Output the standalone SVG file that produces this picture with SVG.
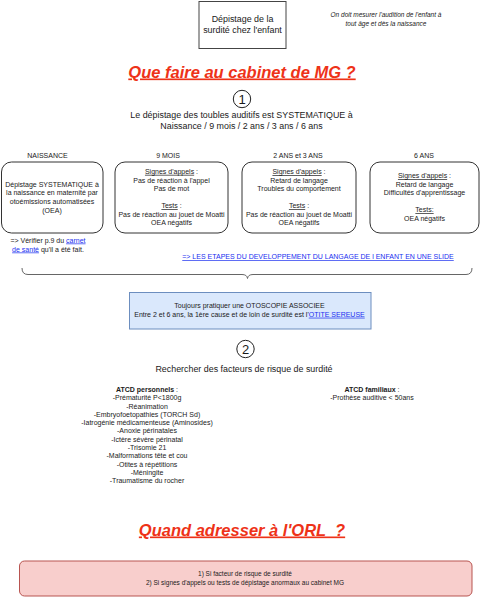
<svg xmlns="http://www.w3.org/2000/svg" width="481" height="600" viewBox="0 0 481 600">
<style>
text{font-family:"Liberation Sans",Arial,Helvetica,sans-serif;fill:#1a1a1a;text-anchor:middle}
.s7{font-size:7px}
.s65{font-size:6.5px}
.s9{font-size:8.9px}
.ttl{font-size:16.5px;font-weight:bold;font-style:italic;fill:#ee3218;text-decoration:underline}
.lnk{fill:#1a2ff0;text-decoration:underline}
.u{text-decoration:underline}
.box{fill:#fff;stroke:#333;stroke-width:1}
</style>
<rect width="481" height="600" fill="#fff"/>
<g id="top-box">
<rect x="199" y="1.5" width="87" height="47" fill="#fff" stroke="#444" stroke-width="1"/>
<text class="s9" x="242.5" y="21.8">Dépistage de la</text>
<text class="s9" x="242.5" y="32.8">surdité chez l'enfant</text>
</g>
<g id="note">
<text class="s65" font-style="italic" x="386" y="17">On doit mesurer l'audition de l'enfant à</text>
<text class="s65" font-style="italic" x="386" y="25.5">tout âge et dès la naissance</text>
</g>
<g id="title1">
<text class="ttl" x="242" y="77.5">Que faire au cabinet de MG ?</text>
</g>
<g id="step1">
<circle cx="242" cy="99" r="8.7" fill="#fff" stroke="#222" stroke-width="1"/>
<text x="242" y="103.5" font-size="13">1</text>
<text class="s9" x="241.5" y="118">Le dépistage des toubles auditifs est SYSTEMATIQUE à</text>
<text class="s9" x="241.5" y="129">Naissance / 9 mois / 2 ans / 3 ans / 6 ans</text>
</g>
<g id="naissance">
<text class="s7" x="47.5" y="158.3">NAISSANCE</text>
<rect class="box" x="1.5" y="162" width="101.5" height="71" rx="10"/>
<text class="s7" x="52" y="186.5">Dépistage SYSTEMATIQUE à</text>
<text class="s7" x="52" y="195">la naissance en maternité par</text>
<text class="s7" x="52" y="203.8">otoémissions automatisées</text>
<text class="s7" x="52" y="212.5">(OEA)</text>
<text class="s7" x="48" y="242.5">=&gt; Vérifier p.9 du <tspan class="lnk">carnet</tspan></text>
<text class="s7" x="48" y="251.5"><tspan class="lnk">de santé</tspan> qu'il a été fait.</text>
</g>
<g id="neuf-mois">
<text class="s7" x="168" y="158.3">9 MOIS</text>
<rect class="box" x="115" y="162" width="113" height="71" rx="10"/>
<text class="s7" x="171.5" y="173.8"><tspan class="u">Signes d'appels</tspan> :</text>
<text class="s7" x="171.5" y="182.5">Pas de réaction à l'appel</text>
<text class="s7" x="171.5" y="191.2">Pas de mot</text>
<text class="s7" x="171.5" y="208.2"><tspan class="u">Tests</tspan> :</text>
<text class="s7" x="171.5" y="216.5">Pas de réaction au jouet de Moatti</text>
<text class="s7" x="171.5" y="225.2">OEA négatifs</text>
</g>
<g id="deux-trois-ans">
<text class="s7" x="298" y="158.3">2 ANS et 3 ANS</text>
<rect class="box" x="242" y="162" width="114" height="71" rx="10"/>
<text class="s7" x="299" y="174.2"><tspan class="u">Signes d'appels</tspan> :</text>
<text class="s7" x="299" y="182.5">Retard de langage</text>
<text class="s7" x="299" y="191.2">Troubles du comportement</text>
<text class="s7" x="299" y="208.2"><tspan class="u">Tests</tspan> :</text>
<text class="s7" x="299" y="216.5">Pas de réaction au jouet de Moatti</text>
<text class="s7" x="299" y="225.2">OEA négatifs</text>
</g>
<g id="six-ans">
<text class="s7" x="424" y="158.3">6 ANS</text>
<rect class="box" x="370" y="162" width="109" height="71" rx="10"/>
<text class="s7" x="424.5" y="178.2"><tspan class="u">Signes d'appels</tspan> :</text>
<text class="s7" x="424.5" y="186.5">Retard de langage</text>
<text class="s7" x="424.5" y="194.8">Difficultés d'apprentissage</text>
<text class="s7" x="424.5" y="212.2"><tspan class="u">Tests:</tspan></text>
<text class="s7" x="424.5" y="221.2">OEA négatifs</text>
</g>
<g id="link-langage">
<text class="s7 lnk" x="318" y="259.2">=&gt; LES ETAPES DU DEVELOPPEMENT DU LANGAGE DE l ENFANT EN UNE SLIDE</text>
</g>
<g id="connectors">
<path d="M22 268 Q22 274.5 28 274.5 L242 274.5 Q247 274.5 247.5 278.5 Q248 274.5 253 274.5 L466 274.5 Q472 274.5 472 268" fill="none" stroke="#666" stroke-width="1"/>
</g>
<g id="otoscopie">
<rect x="129.5" y="292.5" width="241.5" height="36.5" fill="#dae8fc" stroke="#6c8ebf" stroke-width="1"/>
<text class="s7" x="249.5" y="308.2">Toujours pratiquer une OTOSCOPIE ASSOCIEE</text>
<text class="s7" x="249.5" y="316.7">Entre 2 et 6 ans, la 1ère cause et de loin de surdité est l'<tspan class="lnk">OTITE SEREUSE</tspan></text>
</g>
<g id="step2">
<circle cx="245.5" cy="349" r="8.7" fill="#fff" stroke="#222" stroke-width="1"/>
<text x="245.5" y="353.5" font-size="13">2</text>
<text class="s9" x="244" y="372">Rechercher des facteurs de risque de surdité</text>
</g>
<g id="atcd-perso">
<text class="s7" x="147" y="391.8"><tspan font-weight="bold">ATCD personnels</tspan> :</text>
<text class="s7" x="147" y="400.2">-Prématurité P&lt;1800g</text>
<text class="s7" x="147" y="408.5">-Réanimation</text>
<text class="s7" x="147" y="416.8">-Embryofoetopathies (TORCH Sd)</text>
<text class="s7" x="147" y="425.1">-Iatrogénie médicamenteuse (Aminosides)</text>
<text class="s7" x="147" y="433.4">-Anoxie périnatales</text>
<text class="s7" x="147" y="441.7">-Ictère sévère périnatal</text>
<text class="s7" x="147" y="450">-Trisomie 21</text>
<text class="s7" x="147" y="458.3">-Malformations tête et cou</text>
<text class="s7" x="147" y="466.6">-Otites à répétitions</text>
<text class="s7" x="147" y="474.9">-Méningite</text>
<text class="s7" x="147" y="483.2">-Traumatisme du rocher</text>
</g>
<g id="atcd-fam">
<text class="s7" x="372" y="391.8"><tspan font-weight="bold">ATCD familiaux</tspan> :</text>
<text class="s7" x="372" y="400.2">-Prothèse auditive &lt; 50ans</text>
</g>
<g id="title2">
<text class="ttl" x="242" y="535.5" xml:space="preserve">Quand adresser à l'ORL  ?</text>
</g>
<g id="orl">
<rect x="19.5" y="561" width="452.5" height="35" rx="5" fill="#f8cecc" stroke="#b85450" stroke-width="1"/>
<text class="s65" x="245" y="576">1) Si facteur de risque de surdité</text>
<text class="s65" x="245" y="585">2) Si signes d'appels ou tests de dépistage anormaux au cabinet MG</text>
</g>
</svg>
